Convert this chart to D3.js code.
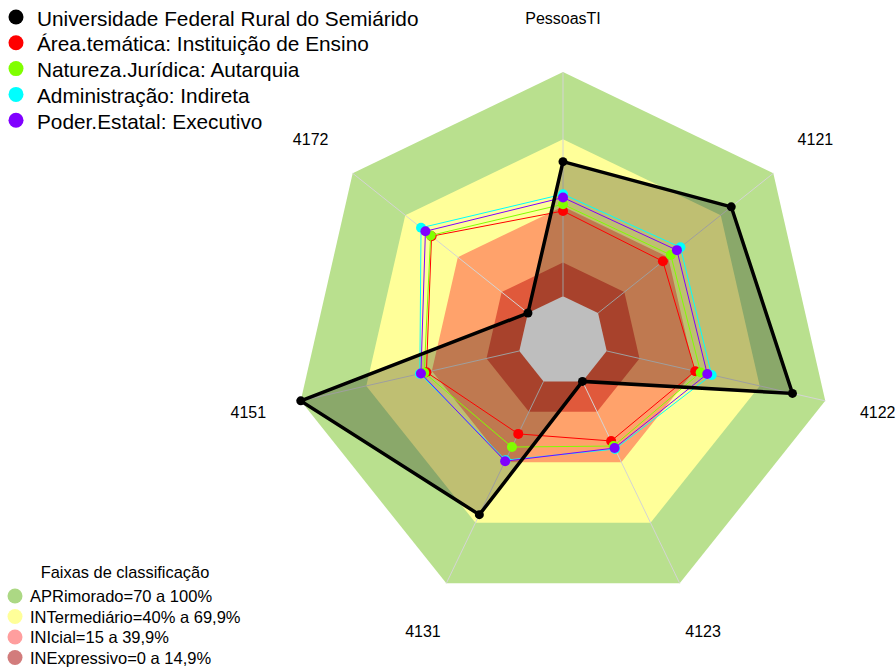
<!DOCTYPE html>
<html lang="pt">
<head>
<meta charset="UTF-8">
<title>Radar</title>
<script src="https://cdn.jsdelivr.net/npm/d3@7"></script>
<style>
    body { margin: 0; background: #ffffff; }
    text { font-family: "Liberation Sans", Arial, sans-serif; fill: #000; }
</style>
</head>
<body>
<div id="chart"></div>
<script>

    // axes, clockwise from the top
    const axes = ["PessoasTI", "4121", "4122", "4123", "4131", "4151", "4172"];

    const seriesNames = [
        "Universidade Federal Rural do Semiárido",
        "Área.temática: Instituição de Ensino",
        "Natureza.Jurídica: Autarquia",
        "Administração: Indireta",
        "Poder.Estatal: Executivo"
    ];
    const seriesColors = ["#000000", "#ff0000", "#80ff00", "#00ffff", "#8000ff"];

    // values in %
    const ufersa      = [60, 76, 85, 0, 66, 100, 0];
    const areaTematica = [38, 37, 40.5, 29.5, 26, 42.5, 55];
    const natureza    = [41, 41.5, 43, 32, 32.5, 43.5, 55.5];
    const administracao = [45.5, 47, 48, 33.5, 39, 45.5, 61];
    const poder       = [44, 45, 46, 33, 39.5, 45, 58.5];
    const allSeries = [ufersa, areaTematica, natureza, administracao, poder];

    // classification bands
    const bandNames = [
        "APRimorado=70 a 100%",
        "INTermediário=40% a 69,9%",
        "INIcial=15 a 39,9%",
        "INExpressivo=0 a 14,9%"
    ];
    const bandUpper = [100, 70, 40, 15];
    const bandFill = ["#b9e08e", "#ffff99", "#ffa26b", "#e0593b"];
    const bandLegend = ["#acd884", "#ffff99", "#ff9e9e", "#d27c7c"];

    const width = 896, height = 668;
    const cx = 563, cy = 341, R = 269;

    const svg = d3.select("#chart").append("svg")
        .attr("width", width)
        .attr("height", height);

    const r = d3.scaleLinear().domain([0, 100]).range([R / 6, R]);
    const angle = d3.scaleLinear().domain([0, axes.length]).range([0, 2 * Math.PI]);

    const g = svg.append("g").attr("transform", "translate(" + cx + "," + cy + ")");

    const ring = d3.lineRadial()
        .angle(function(d, i) { return angle(i); })
        .radius(function(d) { return r(d); })
        .curve(d3.curveLinearClosed);

    // bands
    g.selectAll(".band")
        .data(bandUpper)
        .enter()
        .append("path")
        .attr("d", function(v) { return ring(axes.map(function() { return v; })); })
        .attr("fill", function(v, i) { return bandFill[i]; });

    // spokes
    g.selectAll(".spoke")
        .data(axes)
        .enter()
        .append("line")
        .attr("x1", function(d, i) { return r(0) * Math.sin(angle(i)); })
        .attr("y1", function(d, i) { return -r(0) * Math.cos(angle(i)); })
        .attr("x2", function(d, i) { return r(100) * Math.sin(angle(i)); })
        .attr("y2", function(d, i) { return -r(100) * Math.cos(angle(i)); })
        .attr("stroke", "#d4d4d4")
        .attr("stroke-width", 1);

    // fill of the first series
    g.append("path")
        .attr("d", ring(ufersa))
        .attr("fill", "rgba(0,0,0,0.25)");

    // grey centre
    g.append("path")
        .attr("d", ring(axes.map(function() { return 0; })))
        .attr("fill", "#bebebe");

    function px(v, i) { return r(v) * Math.sin(angle(i)); }
    function py(v, i) { return -r(v) * Math.cos(angle(i)); }

    // the other series, then the first one on top
    const order = [1, 2, 3, 4, 0];
    order.forEach(function(s) {
        const vals = allSeries[s];
        g.append("path")
            .attr("d", ring(vals))
            .attr("fill", "none")
            .attr("stroke", seriesColors[s])
            .attr("stroke-width", s === 0 ? 3.5 : 1);
        g.selectAll(".pt" + s)
            .data(vals)
            .enter()
            .append("circle")
            .attr("cx", function(d, i) { return px(d, i); })
            .attr("cy", function(d, i) { return py(d, i); })
            .attr("r", s === 0 ? 4.5 : 5)
            .attr("fill", seriesColors[s]);
    });

    // axis labels
    g.selectAll(".lab")
        .data(axes)
        .enter()
        .append("text")
        .attr("x", function(d, i) { return 1.2 * R * Math.sin(angle(i)); })
        .attr("y", function(d, i) { return -1.2 * R * Math.cos(angle(i)) + 5.5; })
        .attr("text-anchor", "middle")
        .style("font-size", "16px")
        .text(function(d) { return d; });

    // series legend
    const leg = svg.append("g");
    seriesNames.forEach(function(name, i) {
        leg.append("circle")
            .attr("cx", 16)
            .attr("cy", 17 + i * 25.8)
            .attr("r", 7.5)
            .attr("fill", seriesColors[i]);
        leg.append("text")
            .attr("x", 37)
            .attr("y", 17 + i * 25.8 + 8.5)
            .style("font-size", "20.8px")
            .text(name);
    });

    // band legend
    const bl = svg.append("g");
    bl.append("text")
        .attr("x", 125)
        .attr("y", 578)
        .attr("text-anchor", "middle")
        .style("font-size", "16.4px")
        .text("Faixas de classificação");
    bandNames.forEach(function(name, i) {
        bl.append("circle")
            .attr("cx", 15)
            .attr("cy", 596 + i * 20.5)
            .attr("r", 7.5)
            .attr("fill", bandLegend[i]);
        bl.append("text")
            .attr("x", 30)
            .attr("y", 596 + i * 20.5 + 6)
            .style("font-size", "16.5px")
            .text(name);
    });
</script>
</body>
</html>
